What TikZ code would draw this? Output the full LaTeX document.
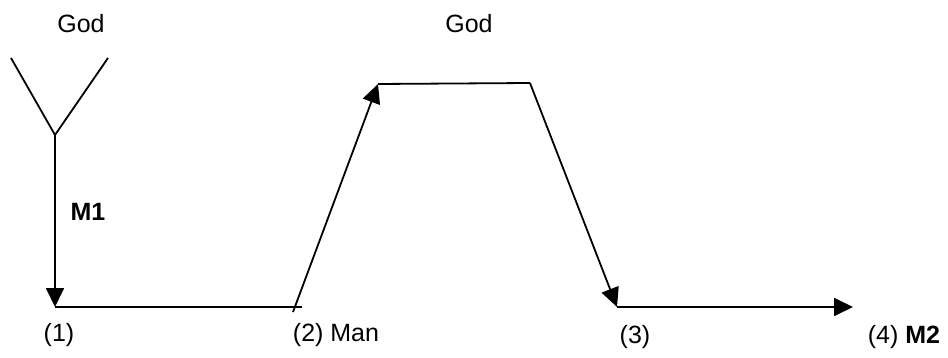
\documentclass[tikz,border=0pt]{standalone}
\usepackage{fontspec}
\setmainfont{Liberation Sans}
\usetikzlibrary{arrows.meta,positioning}

\begin{document}
\begin{tikzpicture}[
  x=1pt, y=-1pt,
  line width=1.8pt,
  lbl/.style={font=\fontsize{25}{29}\selectfont,inner sep=0pt},
  flow/.style={-{Triangle[length=19pt,width=18pt]}}
]
  \useasboundingbox (0,0) rectangle (948,358);

  % Corner points of the path
  \coordinate (armL) at (11,58);
  \coordinate (armR) at (108,58);
  \coordinate (fork) at (55,135);
  \coordinate (p1)   at (55,307);
  \coordinate (p2)   at (302,307);
  \coordinate (rise) at (293,312);
  \coordinate (topL) at (378,84);
  \coordinate (topR) at (530,83);
  \coordinate (p3)   at (617,307);
  \coordinate (p4)   at (853,307);

  % Labels
  \node[lbl] (godL) at (81,24)   {God};
  \node[lbl] (godR) at (469,24)  {God};
  \node[lbl,font=\fontsize{25}{29}\selectfont\bfseries] (m1) at (88,212) {M1};
  \node[lbl] (n1)   at (59,335)  {(1)};
  \node[lbl] (n2)   at (336,335) {(2) Man};
  \node[lbl] (n3)   at (635,337) {(3)};
  \node[lbl] (n4)   at (904,337) {(4) \textbf{M2}};

  % Fork and descent
  \draw (armL) -- (fork) -- (armR);
  \draw[flow] (fork) -- (p1);
  \draw (p1) -- (p2);

  % Rise to God and return
  \draw[flow] (rise) -- (topL);
  \draw (topR) -- (topL);
  \draw[flow] (topR) -- (p3);
  \draw[flow] (p3) -- (p4);
\end{tikzpicture}
\end{document}
